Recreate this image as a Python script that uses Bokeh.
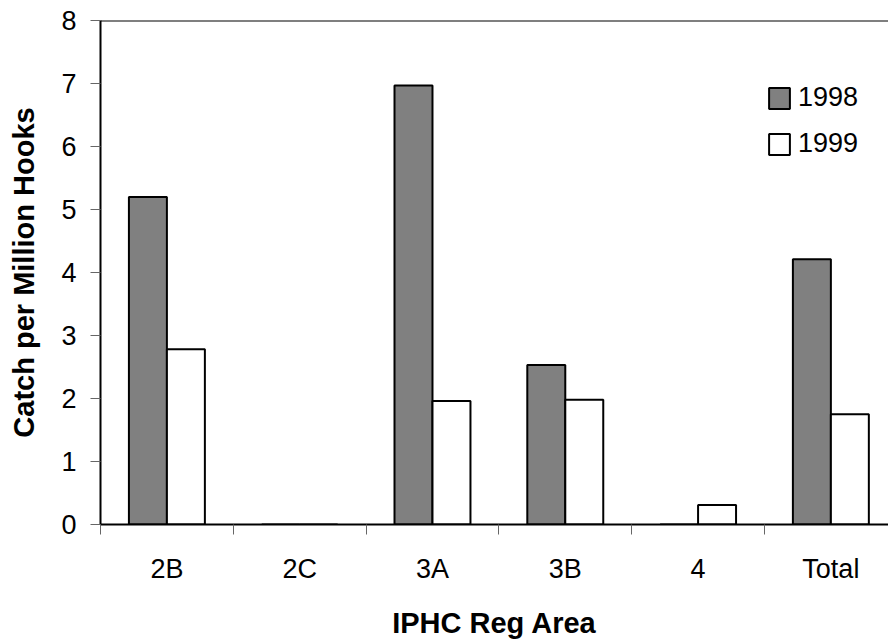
import numpy as np
from bokeh.plotting import figure
from bokeh.models import FixedTicker, Span, Legend, Range1d
from bokeh.embed import file_html
from bokeh.resources import INLINE

categories = ["2B", "2C", "3A", "3B", "4", "Total"]
series_names = ["1998", "1999"]
values_1998 = [5.20, 0.0, 6.97, 2.53, 0.0, 4.21]
values_1999 = [2.78, 0.0, 1.96, 1.98, 0.31, 1.75]
y_ticks = [0, 1, 2, 3, 4, 5, 6, 7, 8]

FONT = "Liberation Sans"
bar_w = 0.286
centers = np.arange(len(categories)) + 0.5

p = figure(width=888, height=644, output_backend="svg", toolbar_location=None,
           x_range=Range1d(0, 5.934), y_range=Range1d(0, 8),
           min_border_left=100, min_border_right=0, min_border_top=20, min_border_bottom=120)
p.outline_line_color = None
p.xgrid.grid_line_color = None
p.ygrid.grid_line_color = None
p.background_fill_color = "white"
p.border_fill_color = "white"

r1 = p.vbar(x=centers - bar_w / 2, top=values_1998, width=bar_w, bottom=0,
            fill_color="#808080", line_color="black", line_width=2)
r2 = p.vbar(x=centers + bar_w / 2, top=values_1999, width=bar_w, bottom=0,
            fill_color="white", line_color="black", line_width=2)

# top frame line
p.add_layout(Span(location=8, dimension="width", line_color="black", line_width=2))

# y axis
ya = p.yaxis[0]
ya.ticker = FixedTicker(ticks=y_ticks)
ya.axis_line_width = 2
ya.axis_line_color = "black"
ya.major_tick_out = 10
ya.major_tick_in = 0
ya.major_tick_line_color = "#666666"
ya.minor_tick_line_color = None
ya.major_label_text_font = FONT
ya.major_label_text_font_size = "27px"
ya.major_label_text_color = "black"
ya.major_label_standoff = 14
ya.axis_label = "Catch per Million Hooks"
ya.axis_label_text_font = FONT
ya.axis_label_text_font_style = "bold"
ya.axis_label_text_font_size = "29px"
ya.axis_label_text_color = "black"
ya.axis_label_standoff = 18

# x axis: labels at centers, ticks at boundaries
xa = p.xaxis[0]
xa.ticker = FixedTicker(ticks=list(centers), minor_ticks=list(range(len(categories) + 1)))
xa.major_label_overrides = {float(c): lab for c, lab in zip(centers, categories)}
xa.axis_line_width = 2
xa.axis_line_color = "black"
xa.major_tick_line_color = None
xa.major_tick_out = 0
xa.major_tick_in = 0
xa.minor_tick_out = 10
xa.minor_tick_in = 0
xa.minor_tick_line_color = "#666666"
xa.major_label_text_font = FONT
xa.major_label_text_font_size = "27px"
xa.major_label_text_color = "black"
xa.major_label_standoff = 19
xa.axis_label = "IPHC Reg Area"
xa.axis_label_text_font = FONT
xa.axis_label_text_font_style = "bold"
xa.axis_label_text_font_size = "29px"
xa.axis_label_text_color = "black"
xa.axis_label_standoff = 20

legend = Legend(items=[(series_names[0], [r1]), (series_names[1], [r2])],
                location=(666, 365))
legend.border_line_color = None
legend.background_fill_alpha = 0
legend.padding = 0
legend.margin = 0
legend.spacing = 15
legend.glyph_width = 26
legend.glyph_height = 26
legend.label_standoff = 6
legend.label_text_font = FONT
legend.label_text_font_size = "27px"
legend.label_text_color = "black"
p.add_layout(legend, "center")

open("out.html", "w").write(file_html(p, INLINE))
